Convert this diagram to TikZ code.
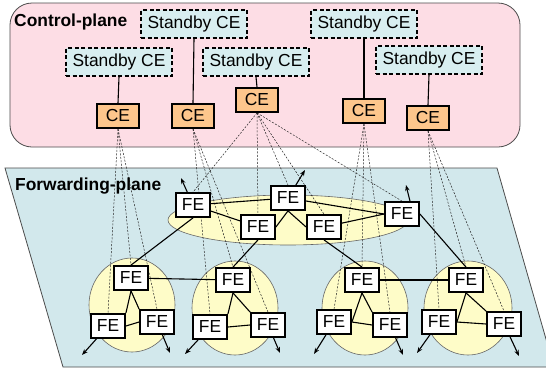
\documentclass[tikz,border=0pt]{standalone}
\usepackage{fontspec}
\setmainfont{Liberation Sans}
\usetikzlibrary{arrows.meta}
\definecolor{cpink}{HTML}{FDDDE5}
\definecolor{fcyan}{HTML}{D2E8EC}
\definecolor{sbcyan}{HTML}{D8EEF0}
\definecolor{ceor}{HTML}{FDC68C}
\definecolor{ylw}{HTML}{FEFCC8}
\pgfdeclarelayer{back}
\pgfdeclarelayer{mid}
\pgfsetlayers{back,mid,main}
\tikzset{
  lbl/.style={font=\fontsize{17.4}{20}\selectfont\bfseries, inner sep=0pt, anchor=west},
  standby/.style={draw, line width=1.6pt, dash pattern=on 4pt off 2.5pt, fill=sbcyan,
    minimum width=106pt, minimum height=28pt, inner sep=0pt, font=\fontsize{17.4}{20}\selectfont},
  cebox/.style={draw, line width=1.8pt, fill=ceor, minimum width=42pt, minimum height=24pt,
    inner sep=0pt, font=\fontsize{17.4}{20}\selectfont},
  febox/.style={draw, line width=1.8pt, fill=white, minimum width=34pt, minimum height=24pt,
    inner sep=0pt, font=\fontsize{17.4}{20}\selectfont},
  sol/.style={line width=1.1pt},
  dsh/.style={line width=0.5pt, black!85, dash pattern=on 2pt off 1.5pt},
  outarr/.style={line width=1.1pt, -{Stealth[length=6pt,width=4.5pt]}},
  grp/.style={fill=ylw, draw=black!60, line width=0.6pt},
}
\begin{document}
\begin{tikzpicture}[x=1pt,y=-1pt]
\useasboundingbox (0,0) rectangle (546,370);
% planes
\begin{pgfonlayer}{back}
\fill[white] (0,0) rectangle (546,370);
\draw[fill=cpink, draw=black!70, line width=0.8pt, rounded corners=22pt] (10,3) rectangle (520,147);
\draw[fill=fcyan, draw=black!70, line width=0.8pt] (5,168) -- (497,168) -- (554,367) -- (63,367) -- cycle;
\draw[grp] (288,220) ellipse [x radius=120, y radius=25];
\draw[grp] (132,305) ellipse [x radius=43, y radius=47];
\draw[grp] (235,308) ellipse [x radius=43, y radius=47];
\draw[grp] (365,308) ellipse [x radius=43, y radius=47];
\draw[grp] (468,308) ellipse [x radius=44, y radius=47];
\end{pgfonlayer}

\node[lbl] (cplabel) at (14,22) {Control-plane};
\node[lbl] (fplabel) at (15,186) {Forwarding-plane};

% standby CEs
\node[standby] (sb1) at (194,24) {Standby CE};
\node[standby] (sb2) at (119,62) {Standby CE};
\node[standby] (sb3) at (256,62) {Standby CE};
\node[standby] (sb4) at (364,24) {Standby CE};
\node[standby] (sb5) at (429,60) {Standby CE};

% CEs
\node[cebox] (ce1) at (118,116) {CE};
\node[cebox] (ce2) at (193,116) {CE};
\node[cebox] (ce3) at (257,100) {CE};
\node[cebox] (ce4) at (364,111) {CE};
\node[cebox] (ce5) at (428,118) {CE};

% top FEs
\node[febox] (fa) at (193,205) {FE};
\node[febox] (fb) at (288,198) {FE};
\node[febox] (fc) at (258,227) {FE};
\node[febox] (fd) at (324,227) {FE};
\node[febox] (fe) at (402,214) {FE};

% clusters
\node[febox] (c1t) at (131,278) {FE};
\node[febox] (c1l) at (108,326) {FE};
\node[febox] (c1r) at (157,322) {FE};
\node[febox] (c2t) at (233,280) {FE};
\node[febox] (c2l) at (210,327) {FE};
\node[febox] (c2r) at (268,325) {FE};
\node[febox] (c3t) at (362,280) {FE};
\node[febox] (c3l) at (334,322) {FE};
\node[febox] (c3r) at (390,325) {FE};
\node[febox] (c4t) at (466,280) {FE};
\node[febox] (c4l) at (439,322) {FE};
\node[febox] (c4r) at (504,324) {FE};

% free ends of outward arrows
\coordinate (oa) at (181,178);
\coordinate (ob) at (305,170);
\coordinate (oe) at (406,185);
\coordinate (o1l) at (82,355);
\coordinate (o1r) at (170,353);
\coordinate (o2l) at (185,354);
\coordinate (o2r) at (280,353);
\coordinate (o3l) at (314,354);
\coordinate (o3r) at (403,355);
\coordinate (o4l) at (417,353);
\coordinate (o4r) at (519,356);

\begin{pgfonlayer}{mid}
% dashed control associations
\foreach \f in {fa,fb,fc,fd,fe} \draw[dsh] (ce3.south) -- (\f.north);
\foreach \f in {c1t,c1l,c1r} \draw[dsh] (ce1.south) -- (\f.north);
\foreach \f in {c2t,c2l,c2r} \draw[dsh] (ce2.south) -- (\f.north);
\foreach \f in {c3t,c3l,c3r} \draw[dsh] (ce4.south) -- (\f.north);
\foreach \f in {c4t,c4l,c4r} \draw[dsh] (ce5.south) -- (\f.north);
% standby links
\draw[sol] (sb1.south) -- (ce2.north);
\draw[sol] (sb2.south) -- (ce1.north);
\draw[sol] (sb3.south) -- (ce3.north);
\draw[sol] (sb4.south) -- (ce4.north);
\draw[sol] (sb5.south) -- (ce5.north);
% top cluster links
\draw[sol] (fa) -- (fb);
\draw[sol] (fa) -- (fc);
\draw[sol] (fb.south) -- (fc.east);
\draw[sol] (fb.south) -- (fd.west);
\draw[sol] (fb) -- (fe.west);
\draw[sol] (fd) -- (fe.west);
% top to clusters
\draw[sol] (fa.south) -- (c1t.north);
\draw[sol] (fc.south) -- (c2t.north);
\draw[sol] (fd.south) -- (c3t.north);
\draw[sol] (fe.east) -- (c4t.north);
% cluster internals
\draw[sol] (c1t.south) -- (c1l.north east);
\draw[sol] (c1t.south) -- (c1r.north west);
\draw[sol] (c1l.east) -- (c1r.west);
\draw[sol] (c2t.south) -- (c2l.north east);
\draw[sol] (c2t.south) -- (c2r.north west);
\draw[sol] (c2l.east) -- (c2r.west);
\draw[sol] (c3t.south) -- (c3l.east);
\draw[sol] (c3t.south) -- (c3r.north west);
\draw[sol] (c3l.east) -- (c3r.west);
\draw[sol] (c4t.south) -- (c4l.east);
\draw[sol] (c4t.south) -- (c4r.north west);
\draw[sol] (c4l.east) -- (c4r.west);
% inter-cluster
\draw[sol] (c1t) -- (c2t);
\draw[sol] (c3t) -- (c4t);
% outward arrows
\draw[outarr] (fa) -- (oa);
\draw[outarr] (fb) -- (ob);
\draw[outarr] ([xshift=8pt]fe.north) -- (oe);
\draw[outarr] (c1l) -- (o1l);
\draw[outarr] (c1r) -- (o1r);
\draw[outarr] (c2l) -- (o2l);
\draw[outarr] (c2r) -- (o2r);
\draw[outarr] (c3l) -- (o3l);
\draw[outarr] (c3r) -- (o3r);
\draw[outarr] (c4l) -- (o4l);
\draw[outarr] (c4r) -- (o4r);
\end{pgfonlayer}
\end{tikzpicture}
\end{document}
